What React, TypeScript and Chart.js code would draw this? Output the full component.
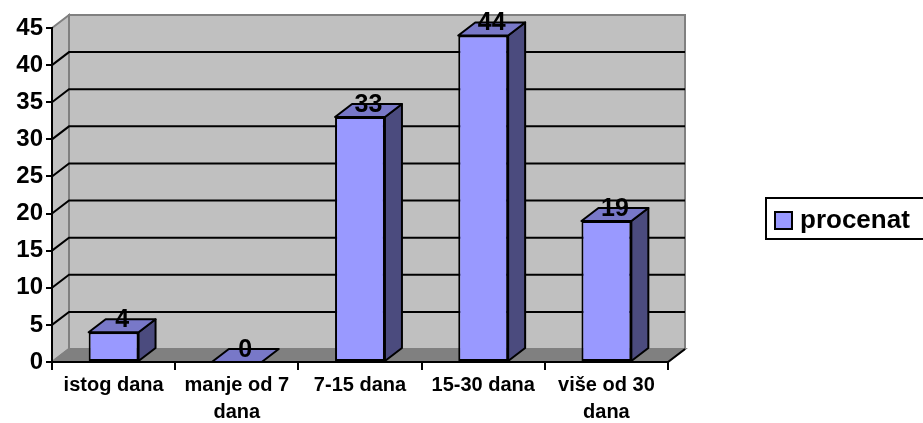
import React, { useEffect, useRef } from "react";
import { Chart, registerables } from "chart.js";

Chart.register(...registerables);

const categories: string[][] = [
  ["istog dana"],
  ["manje od 7", "dana"],
  ["7-15 dana"],
  ["15-30 dana"],
  ["više od 30", "dana"],
];
const values: number[] = [4, 0, 33, 44, 19];
const seriesName = "procenat";
const yMin = 0;
const yMax = 45;
const yStep = 5;

const FONT = '"Liberation Sans", Arial, sans-serif';
const FRONT = "#9999FF";
const TOP = "#7878C8";
const SIDE = "#4B4B7E";
const WALL = "#C0C0C0";
const FLOOR = "#808080";
const EDGE = "#808080";
const DX = 17;
const DY = 13;

const threeD = {
  id: "threeD",
  beforeDraw(chart: any) {
    const ctx = chart.ctx;
    const xs = chart.scales.x;
    const ys = chart.scales.y;
    const L = xs.left;
    const R = xs.right;
    const T = ys.getPixelForValue(yMax);
    const B = ys.getPixelForValue(yMin);
    ctx.save();
    ctx.lineJoin = "miter";
    // back wall
    ctx.beginPath();
    ctx.moveTo(L + DX, T - DY);
    ctx.lineTo(R + DX, T - DY);
    ctx.lineTo(R + DX, B - DY);
    ctx.lineTo(L + DX, B - DY);
    ctx.closePath();
    ctx.fillStyle = WALL;
    ctx.fill();
    ctx.strokeStyle = EDGE;
    ctx.lineWidth = 2;
    ctx.stroke();
    // left wall
    ctx.beginPath();
    ctx.moveTo(L, T);
    ctx.lineTo(L + DX, T - DY);
    ctx.lineTo(L + DX, B - DY);
    ctx.lineTo(L, B);
    ctx.closePath();
    ctx.fillStyle = WALL;
    ctx.fill();
    ctx.stroke();
    // floor
    ctx.beginPath();
    ctx.moveTo(L, B);
    ctx.lineTo(L + DX, B - DY);
    ctx.lineTo(R + DX, B - DY);
    ctx.lineTo(R, B);
    ctx.closePath();
    ctx.fillStyle = FLOOR;
    ctx.fill();
    ctx.stroke();
    ctx.beginPath();
    ctx.moveTo(R, B);
    ctx.lineTo(R + DX, B - DY);
    ctx.strokeStyle = "#000";
    ctx.stroke();
    // gridlines
    ctx.strokeStyle = "#000";
    ctx.lineWidth = 2;
    for (let v = yMin + yStep; v < yMax; v += yStep) {
      const py = ys.getPixelForValue(v);
      ctx.beginPath();
      ctx.moveTo(L, py);
      ctx.lineTo(L + DX, py - DY);
      ctx.lineTo(R + DX, py - DY);
      ctx.stroke();
    }
    ctx.restore();
  },
  afterDatasetsDraw(chart: any) {
    const ctx = chart.ctx;
    const meta = chart.getDatasetMeta(0);
    ctx.save();
    ctx.lineWidth = 2;
    ctx.strokeStyle = "#000";
    ctx.lineJoin = "round";
    meta.data.forEach((el: any, i: number) => {
      const { x, y, base, width } = el.getProps(["x", "y", "base", "width"], true);
      const l = x - width / 2;
      const r = x + width / 2;
      // side
      if (base - y > 0.5) {
        ctx.beginPath();
        ctx.moveTo(r, y);
        ctx.lineTo(r + DX, y - DY);
        ctx.lineTo(r + DX, base - DY);
        ctx.lineTo(r, base);
        ctx.closePath();
        ctx.fillStyle = SIDE;
        ctx.fill();
        ctx.stroke();
      }
      // top
      ctx.beginPath();
      ctx.moveTo(l, y);
      ctx.lineTo(l + DX, y - DY);
      ctx.lineTo(r + DX, y - DY);
      ctx.lineTo(r, y);
      ctx.closePath();
      ctx.fillStyle = TOP;
      ctx.fill();
      ctx.stroke();
      // label
      ctx.fillStyle = "#000";
      ctx.font = `bold 25px ${FONT}`;
      ctx.textAlign = "center";
      ctx.textBaseline = "middle";
      ctx.fillText(String(values[i]), x + DX / 2, y - DY + 1);
    });
    ctx.restore();
  },
  afterDraw(chart: any) {
    const ctx = chart.ctx;
    ctx.save();
    ctx.lineWidth = 2;
    ctx.strokeStyle = "#000";
    ctx.strokeRect(766, 198, 170, 41);
    ctx.fillStyle = FRONT;
    ctx.fillRect(775, 212, 17, 17);
    ctx.strokeRect(775, 212, 17, 17);
    ctx.fillStyle = "#000";
    ctx.font = `bold 26px ${FONT}`;
    ctx.textAlign = "left";
    ctx.textBaseline = "alphabetic";
    ctx.fillText(chart.data.datasets[0].label, 800, 228);
    ctx.restore();
  },
};

export default function App() {
  const ref = useRef<HTMLCanvasElement>(null);
  useEffect(() => {
    if (!ref.current) return;
    const chart = new Chart(ref.current, {
      type: "bar",
      data: {
        labels: categories,
        datasets: [
          {
            label: seriesName,
            data: values,
            backgroundColor: FRONT,
            borderColor: "#000",
            borderWidth: 2,
            borderSkipped: false,
            barPercentage: 0.405,
            categoryPercentage: 1,
          },
        ],
      },
      options: {
        animation: false,
        responsive: false,
        layout: { padding: { left: 0, top: 28, right: 255, bottom: 0 } },
        plugins: { legend: { display: false }, tooltip: { enabled: false } },
        scales: {
          x: {
            offset: true,
            grid: {
              offset: true,
              drawOnChartArea: false,
              drawTicks: true,
              tickLength: 8,
              color: "#000",
              lineWidth: 2,
            },
            border: { display: true, color: "#000", width: 2 },
            ticks: {
              font: { family: FONT, weight: "bold", size: 20, lineHeight: 1.35 },
              color: "#000",
              padding: 2,
              maxRotation: 0,
              autoSkip: false,
            },
            afterFit: (s: any) => {
              s.height = 61;
            },
          },
          y: {
            min: yMin,
            max: yMax,
            ticks: {
              stepSize: yStep,
              font: { family: FONT, weight: "bold", size: 24 },
              color: "#000",
              padding: 3,
            },
            grid: {
              drawOnChartArea: false,
              drawTicks: true,
              tickLength: 6,
              color: "#000",
              lineWidth: 2,
            },
            border: { display: true, color: "#000", width: 2 },
            afterFit: (s: any) => {
              s.width = 52;
            },
          },
        },
      },
      plugins: [threeD],
    });
    return () => chart.destroy();
  }, []);
  return (
    <div style={{ position: "fixed", left: 0, top: 0, width: 923, height: 423, background: "#fff" }}>
      <canvas ref={ref} width={923} height={423} style={{ display: "block" }} />
    </div>
  );
}
